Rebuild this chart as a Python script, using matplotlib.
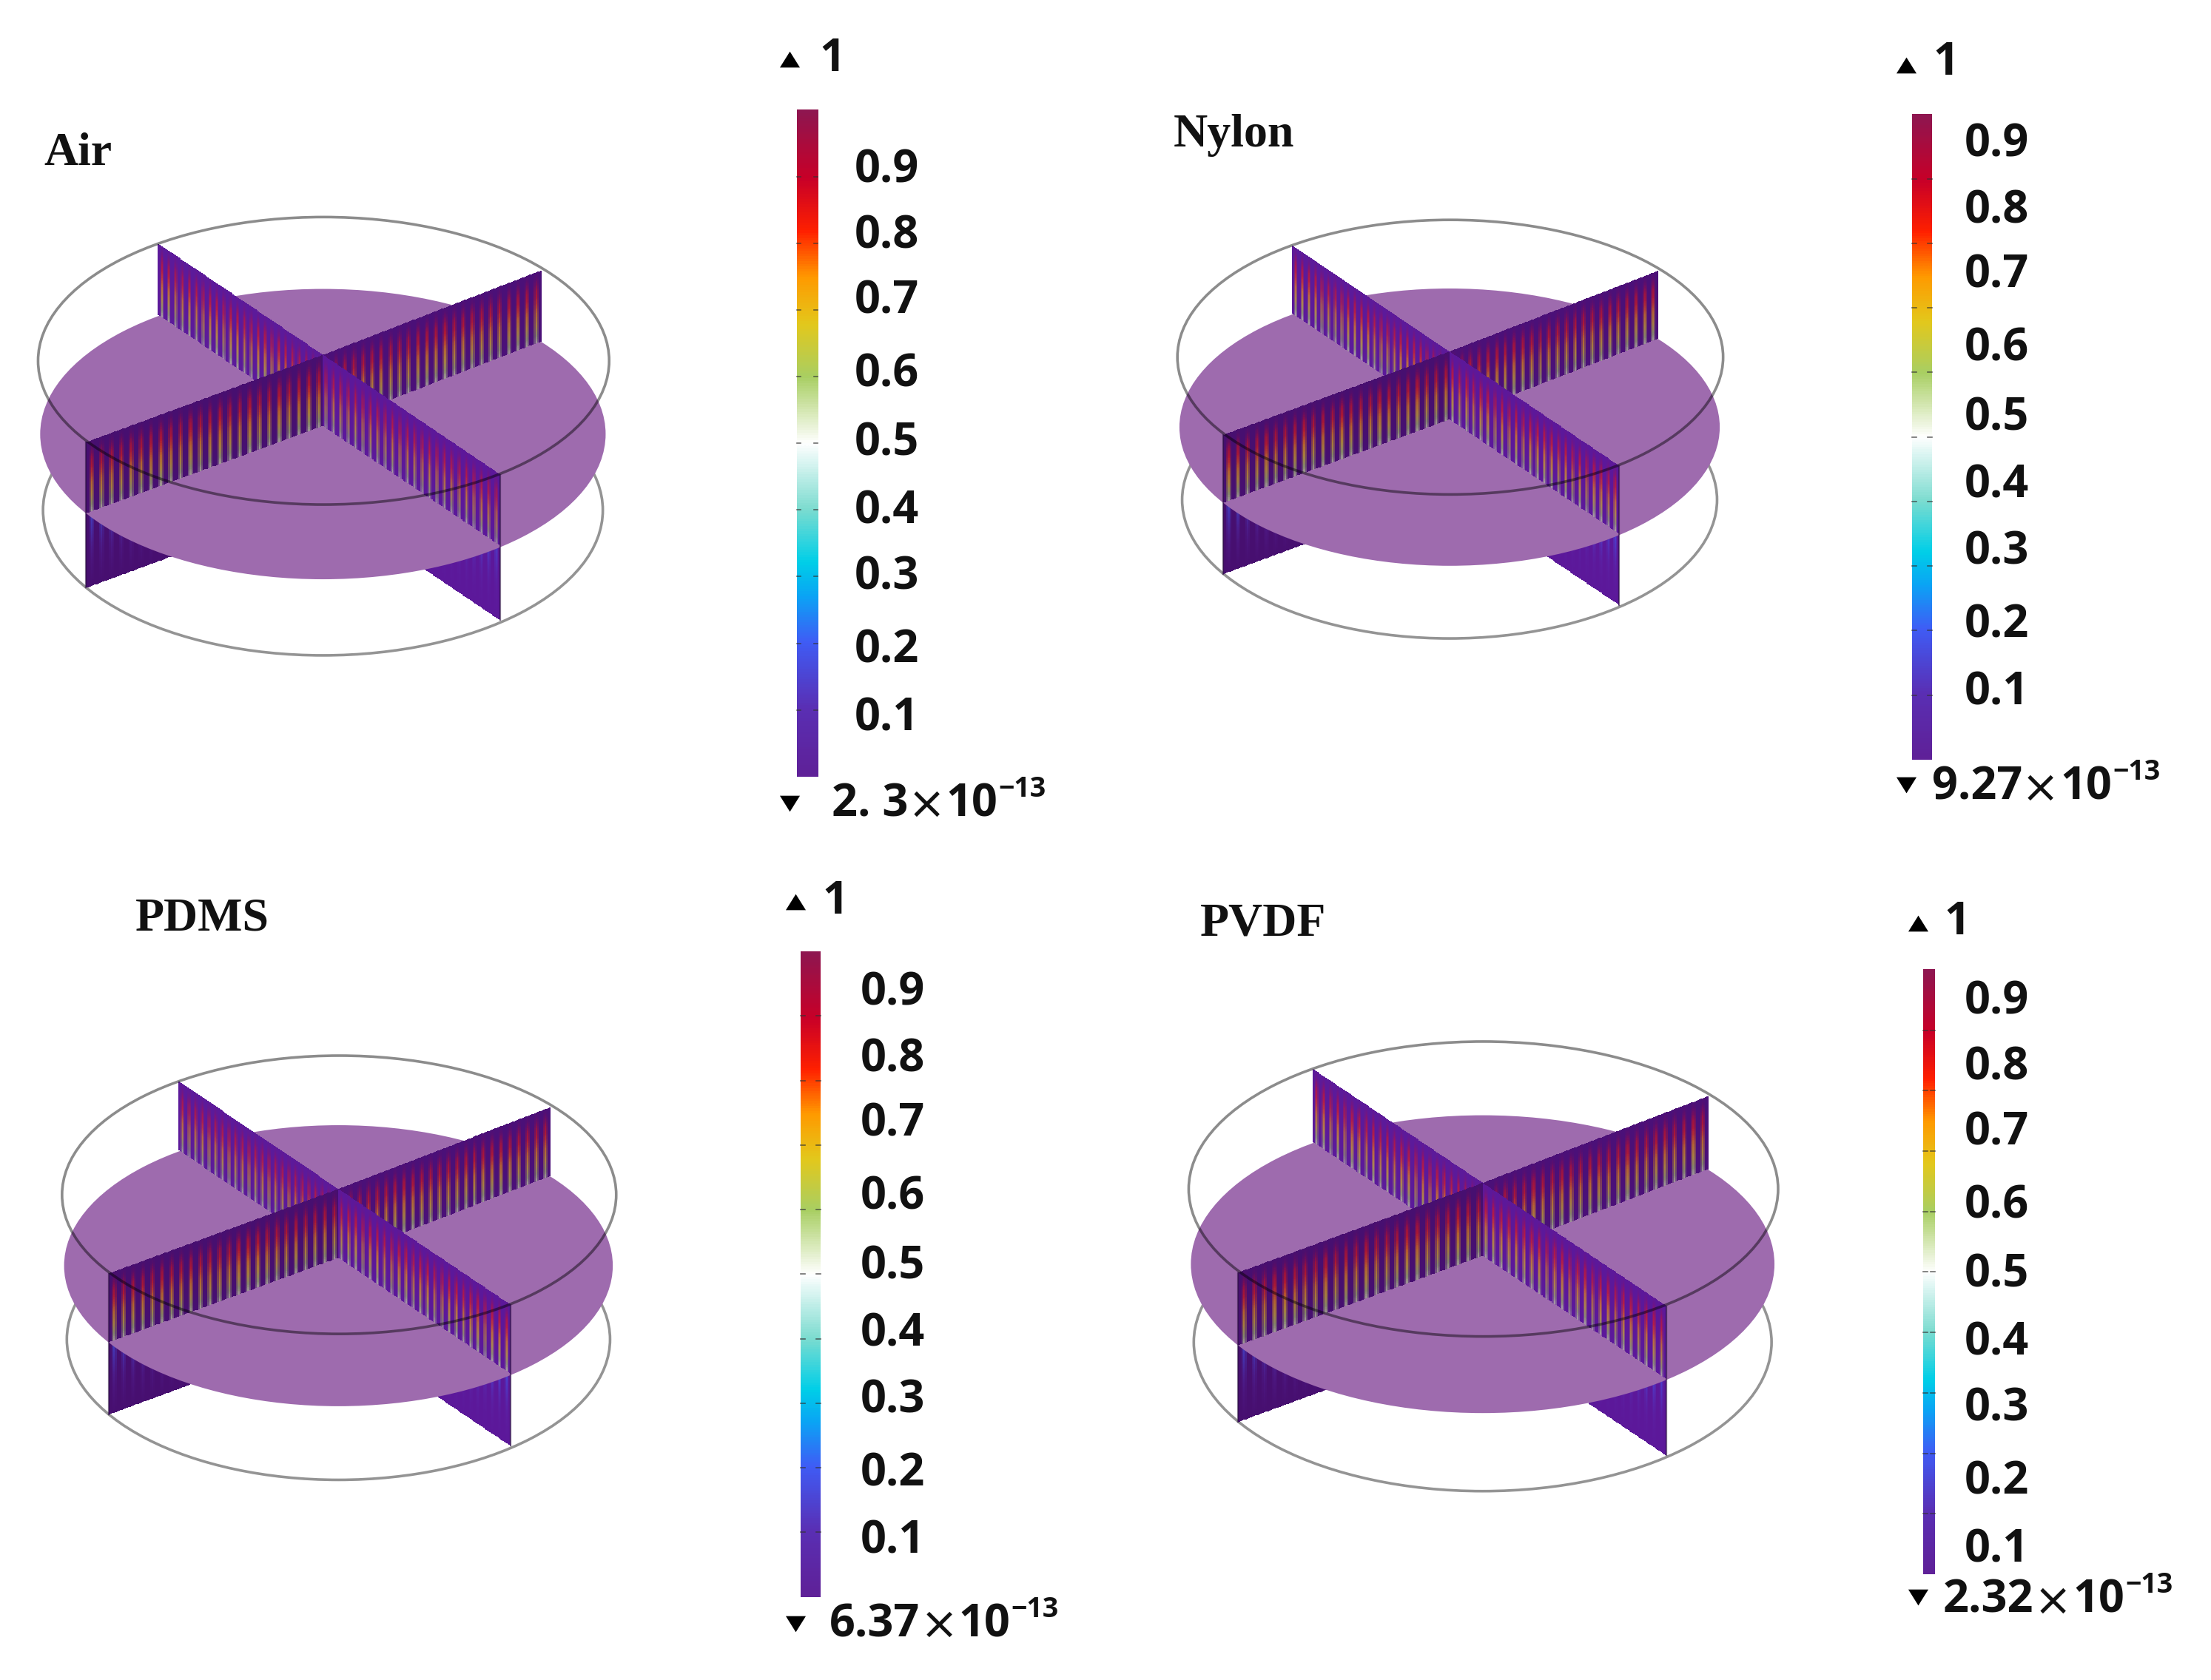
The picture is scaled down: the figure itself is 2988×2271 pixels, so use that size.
import numpy as np
import matplotlib
matplotlib.use('Agg')
import matplotlib.pyplot as plt
from matplotlib.colors import LinearSegmentedColormap, to_rgb
from matplotlib.patches import Ellipse

plt.rcParams['font.family'] = ['Open Sans', 'DejaVu Sans']

# panels
names = ['Air', 'Nylon', 'PDMS', 'PVDF']
max_labels = ['1', '1', '1', '1']
min_labels = ['2. 3', '9.27', '6.37', '2.32']
min_base = '10'
min_exponent = '\u221213'
tick_labels = ['0.9', '0.8', '0.7', '0.6', '0.5', '0.4', '0.3', '0.2', '0.1']
tick_values = [0.9, 0.8, 0.7, 0.6, 0.5, 0.4, 0.3, 0.2, 0.1]

# rainbow scale
scale_values = [0, 0.1, 0.2, 0.27, 0.32, 0.4, 0.5, 0.6, 0.68, 0.75, 0.82, 0.9, 1]
scale_colors = ['#5f2198', '#5a2fb4', '#3f5cf5', '#0aa5f5', '#00cfe8', '#7cdcd0', '#ffffff',
                '#a9cf63', '#e3c81c', '#ff9a00', '#ff2000', '#c80028', '#8f1650']
cmap = LinearSegmentedColormap.from_list('field', list(zip(scale_values, scale_colors)))

# field along the height of the slices, top to bottom
height_steps = [0, 0.08, 0.25, 0.5, 0.75, 1]
upper_values = [0.92, 0.9, 0.85, 0.78, 0.68, 0.55]
upper_strength = [0, 0.1, 0.5, 0.58, 0.6, 0.62]
lower_values = [0.22, 0.2, 0.18, 0.12, 0.08, 0.05]
lower_strength = [0.55, 0.55, 0.45, 0.3, 0.15, 0]
stripe_shape = [0, 0, 0.5, 1, 0.5, 0]
stripes = 24

# layout, in units of the 1568 wide preview
boxes = [(27, 432, 154, 465), (835, 1222, 156, 453), (44, 437, 749, 1050), (843, 1261, 739, 1058)]
title_pos = [(31, 109), (832, 96), (96, 652), (851, 656)]
bars = [(565, 580, 78, 551), (1356, 1370, 81, 539), (568, 582, 675, 1133), (1364, 1372, 688, 1117)]
up_arrow = [(560, 42), (1352, 46), (564, 640), (1360, 655)]
down_arrow = [(560, 570), (1352, 557), (564, 1152), (1360, 1133)]
one_pos = [(581, 42), (1371, 45), (583, 640), (1379, 655)]
min_pos = [(590, 571), (1370, 559), (588, 1153), (1378, 1136)]
min_end = [742, 1532, 751, 1541]
label_x = [606, 1393, 610, 1393]
label_y0 = [121, 103, 705, 711]
label_steps = [0, 47, 93, 145, 194, 242, 289, 341, 389]

# one cylinder in the coordinates of the Air panel
top_ring = (229.5, 256, 202.5, 102)
mid_disc = (229, 308, 200.5, 103)
low_ring = (229, 362, 198.5, 103)
corner_a = (112, 173)
corner_b = (384, 192)
corner_c = (61, 314)
corner_d = (355, 337)
centre = (229, 252)
drop = 103
mid_drop = 50

disc_color = '#9e6bae'
ring_color = '#000000'
plane_dark = {'a': '#5c1a9a', 'b': '#4b1078', 'c': '#470f70', 'd': '#5c189a'}

arrow_down = [(-1, 0.8), (1, 0.8), (0, -0.8)]
arrow_up = [(-1, -0.8), (1, -0.8), (0, 0.8)]


def half_plane(ax, fit, p_out, p_in, dark, lower, z):
    # one wing of a slice, from the outer corner to the axis
    n_u = stripes * len(stripe_shape)
    n_v = 40
    u = np.linspace(0, 1, n_u + 1)
    v = np.linspace(0, 1, n_v + 1)
    uu, vv = np.meshgrid(u, v)
    x0 = p_out[0] + (p_in[0] - p_out[0]) * uu
    y0 = p_out[1] + (p_in[1] - p_out[1]) * uu
    if lower:
        yy = y0 + mid_drop + (drop - mid_drop) * vv
    else:
        yy = y0 + mid_drop * vv
    x, y = fit(x0, yy)
    vc = (v[:-1] + v[1:]) / 2
    if lower:
        val = np.interp(vc, height_steps, lower_values)
        strength = np.interp(vc, height_steps, lower_strength)
    else:
        val = np.interp(vc, height_steps, upper_values)
        strength = np.interp(vc, height_steps, upper_strength)
    base = np.array(to_rgb(dark))
    shape = np.tile(stripe_shape, stripes)
    rgb = np.zeros((n_v, n_u, 3))
    for i in range(n_v):
        col = np.array(cmap(val[i])[:3])
        for j in range(n_u):
            w = shape[j] * strength[i]
            rgb[i, j] = base * (1 - w) + col * w
    ax.pcolormesh(x, y, rgb, shading='flat', antialiased=False, linewidth=0, zorder=z, rasterized=True)


def ellipse(ax, fit, e, **kw):
    cx, cy = fit(e[0], e[1])
    rx = e[2] * fit.sx
    ry = e[3] * fit.sy
    ax.add_patch(Ellipse((cx, cy), 2 * rx, 2 * ry, **kw))


def make_fit(box):
    sx = (box[1] - box[0]) / (boxes[0][1] - boxes[0][0])
    sy = (box[3] - box[2]) / (boxes[0][3] - boxes[0][2])

    def fit(x, y):
        return box[0] + (x - boxes[0][0]) * sx, box[2] + (y - boxes[0][2]) * sy
    fit.sx = sx
    fit.sy = sy
    return fit


fig = plt.figure(figsize=(29.88, 22.71), dpi=100)
ax = fig.add_axes([0, 0, 1, 1])

for k, name in enumerate(names):
    fit = make_fit(boxes[k])

    ellipse(ax, fit, low_ring, fill=False, edgecolor=ring_color, alpha=0.42, lw=2.6, zorder=1)
    # parts under the disc
    half_plane(ax, fit, corner_c, centre, plane_dark['c'], True, 2)
    half_plane(ax, fit, corner_d, centre, plane_dark['d'], True, 2)
    ellipse(ax, fit, mid_disc, facecolor=disc_color, edgecolor='none', zorder=3)
    # parts above the disc, back wings first
    half_plane(ax, fit, corner_a, centre, plane_dark['a'], False, 4)
    half_plane(ax, fit, corner_b, centre, plane_dark['b'], False, 5)
    half_plane(ax, fit, corner_c, centre, plane_dark['c'], False, 6)
    half_plane(ax, fit, corner_d, centre, plane_dark['d'], False, 7)
    ellipse(ax, fit, top_ring, fill=False, edgecolor=ring_color, alpha=0.45, lw=2.6, zorder=8)

    # dark vertical edges of the front corners
    for c in (corner_c, corner_d):
        ex, ey = fit(np.array([c[0], c[0]]), np.array([c[1], c[1] + drop]))
        ax.plot(ex, ey, color='#2a1040', alpha=0.6, lw=1.6, zorder=9)

    ax.text(title_pos[k][0], title_pos[k][1], name, family='Liberation Serif', weight='bold',
            fontsize=46, ha='left', va='center', color='#111111')

    # colour bar
    x0, x1, y0, y1 = bars[k]
    grad = np.linspace(1, 0, 256).reshape(-1, 1)
    ax.imshow(grad, cmap=cmap, vmin=0, vmax=1, extent=(x0, x1, y1, y0), aspect='auto',
              origin='upper', zorder=2, interpolation='bilinear')
    for t in tick_values:
        ty = y1 - t * (y1 - y0)
        ax.plot([x0, x0 + 3], [ty, ty], color='#333333', lw=1.2, alpha=0.7, zorder=3)
        ax.plot([x1 - 3, x1], [ty, ty], color='#333333', lw=1.2, alpha=0.7, zorder=3)
    for lab, step in zip(tick_labels, label_steps):
        ax.text(label_x[k], label_y0[k] + step, lab, fontsize=44, weight='bold', ha='left',
                va='center', color='#111111')

    ax.scatter(*up_arrow[k], marker=arrow_up, s=380, color='black', linewidths=0, zorder=3)
    ax.scatter(*down_arrow[k], marker=arrow_down, s=380, color='black', linewidths=0, zorder=3)
    ax.text(one_pos[k][0], one_pos[k][1], max_labels[k], fontsize=44, weight='bold', ha='left',
            va='center', color='#111111')

    # minimum label, in pieces so the sign and the exponent sit where they do in the original
    mx, my = min_pos[k]
    end = min_end[k]
    ax.text(mx, my, min_labels[k], fontsize=44, weight='bold', ha='left', va='center', color='#111111')
    ax.text(end - 85, my + 1, '\u00d7', family='DejaVu Sans', fontsize=44, ha='center', va='center',
            color='#111111')
    ax.text(end - 71, my, min_base, fontsize=44, weight='bold', ha='left', va='center', color='#111111')
    ax.text(end, my - 11, min_exponent, fontsize=27, weight='bold', ha='right', va='center',
            color='#111111')

ax.set_xlim(0, 1568)
ax.set_ylim(1192, 0)
ax.set_aspect('auto')
ax.axis('off')

fig.savefig('out.png', dpi=100, facecolor='white')
